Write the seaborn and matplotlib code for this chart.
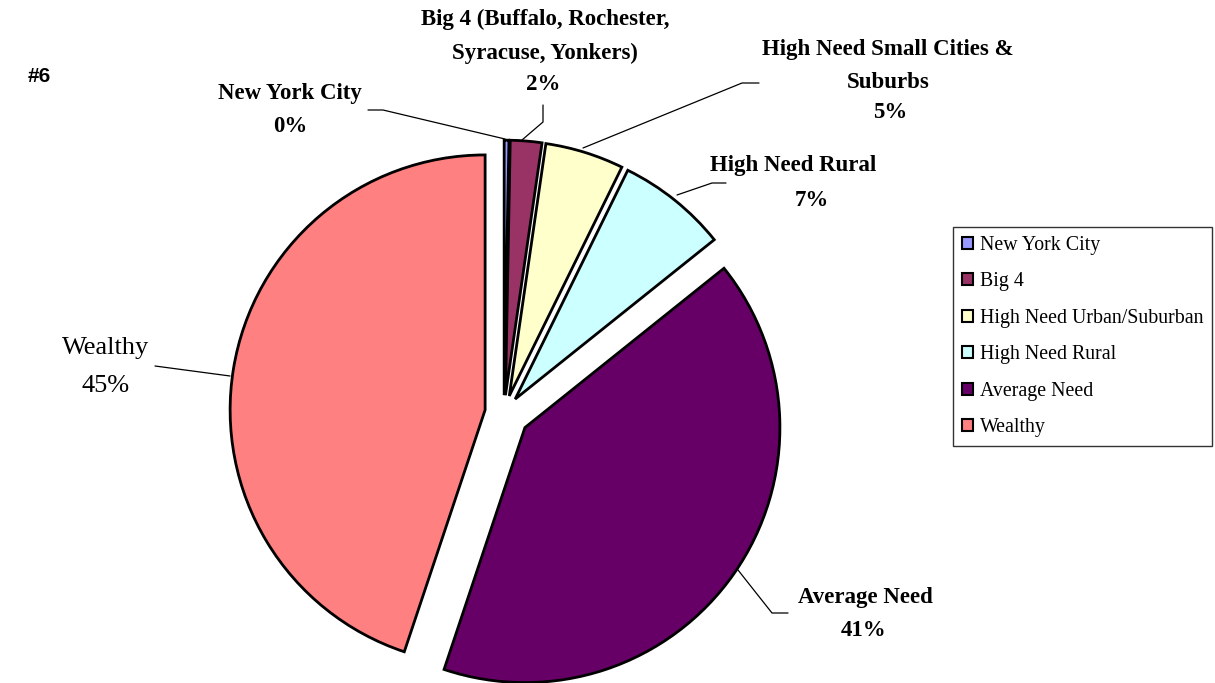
import matplotlib
matplotlib.use("Agg")
import matplotlib.pyplot as plt
from matplotlib.lines import Line2D
import seaborn as sns

# data
sectors = ["New York City", "Big 4", "High Need Urban/Suburban",
           "High Need Rural", "Average Need", "Wealthy"]
shares = [0.3, 2, 5, 7, 41, 45]
colors = ["#9999FF", "#993366", "#FFFFCC", "#CCFFFF", "#660066", "#FF8080"]
slice_names = [["New York City"],
               ["Big 4 (Buffalo, Rochester,", "Syracuse, Yonkers)"],
               ["High Need Small Cities &", "Suburbs"],
               ["High Need Rural"],
               ["Average Need"],
               ["Wealthy"]]

W, H = 1215, 683


def fx(x, y):
    ''' pixel (from top-left) to figure fraction '''
    return x / W, 1 - y / H


sns.set_theme(style="white")
plt.rcParams['font.family'] = ['Liberation Serif', 'DejaVu Serif']
plt.rcParams['text.color'] = 'black'

fig = plt.figure(figsize=(W / 100, H / 100), dpi=100)
fig.patch.set_facecolor("white")

# pie centre at (504, 413) px, radius 255 px
r_px = 255
cx, cy = 504, 413
ax = fig.add_axes([0, 0, 1000 / W, 1])
wedges, _ = ax.pie(shares, colors=colors, startangle=90, counterclock=False,
                   explode=[0.07, 0.07, 0.07, 0.07, 0.1, 0.075], radius=1,
                   wedgeprops=dict(edgecolor="black", linewidth=2))
ax.set_xlim(-cx / r_px, (1000 - cx) / r_px)
ax.set_ylim(-(H - cy) / r_px, cy / r_px)
ax.set_aspect("equal", adjustable="box")
ax.axis("off")

# slice labels: name line y's, percent position, bold, size
pct = [f"{round(v)}%" for v in shares]
label_pos = [
    (290, [93], 290, 127, True, 16.5),
    (545, [19, 53], 543, 85, True, 16.5),
    (888, [50, 82], 890, 113, True, 16.5),
    (793, [165], 812, 200, True, 16.5),
    (865, [597], 864, 631, True, 16.5),
    (106, [348], 106, 386, False, 19),
]
for lines, p, (x, ys, px, py, bold, fs) in zip(slice_names, pct, label_pos):
    wt = "bold" if bold else "normal"
    for line, y in zip(lines, ys):
        fig.text(*fx(x, y), line, ha="center", va="center", fontsize=fs,
                 fontweight=wt)
    fig.text(*fx(px, py), p, ha="center", va="center", fontsize=fs, fontweight=wt)

# leader lines
leaders = [
    [(368, 110), (383, 110), (505, 139)],
    [(543, 105), (543, 122), (522, 140)],
    [(759, 83), (742, 83), (583, 148)],
    [(726, 183), (712, 183), (677, 195)],
    [(788, 613), (772, 613), (738, 570)],
    [(155, 366), (230, 376)],
]
for pts in leaders:
    xs = [p[0] / W for p in pts]
    ys = [1 - p[1] / H for p in pts]
    fig.add_artist(Line2D(xs, ys, color="black", linewidth=0.9))

fig.text(*fx(28, 76), "#6", ha="left", va="center", fontsize=15,
         fontweight="bold", family=["Liberation Sans", "DejaVu Sans"])

leg = fig.legend(wedges, sectors, loc="upper left",
                 bbox_to_anchor=fx(953, 227), frameon=True, fancybox=False,
                 fontsize=14.3, handlelength=0.55, handleheight=0.55,
                 handletextpad=0.35, labelspacing=0.88, borderpad=0.45,
                 borderaxespad=0)
leg.get_frame().set_edgecolor("black")
leg.get_frame().set_linewidth(1.0)
for h in leg.legend_handles:
    h.set_linewidth(1.5)

fig.savefig("out.png", dpi=100, facecolor="white")
